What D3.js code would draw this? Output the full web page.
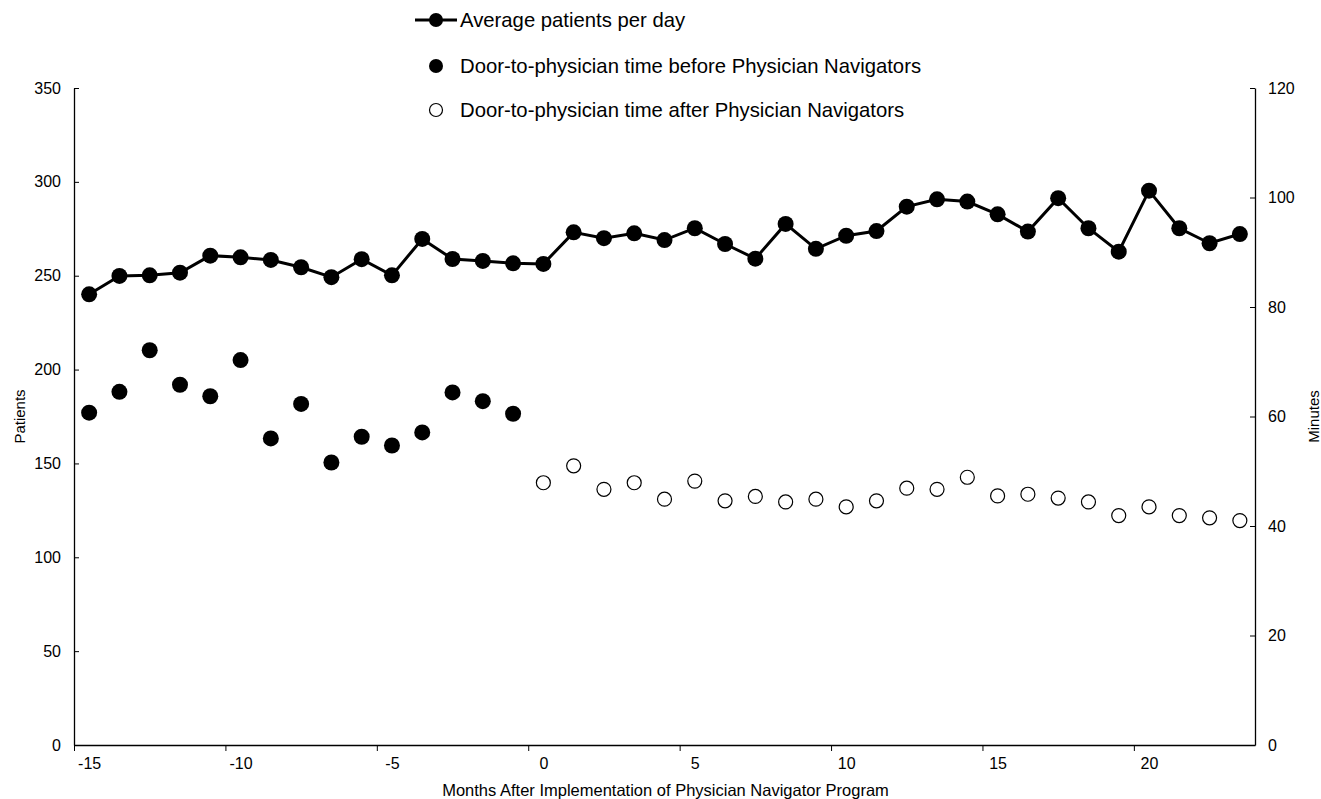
<!DOCTYPE html>
<html>
<head>
<meta charset="utf-8">
<script src="https://cdn.jsdelivr.net/npm/d3@7"></script>
<style>
  body { margin: 0; background: #fff; }
  text { font-family: "Liberation Sans", Arial, sans-serif; fill: #000; }
</style>
</head>
<body>
<div id="chart-area"></div>
<script>
const months = d3.range(-15, 24)
const patients = [240.1, 249.9, 250.2, 251.6, 260.7, 259.8, 258.4, 254.5, 249.2, 258.8,
  250.2, 269.6, 258.9, 257.9, 256.6, 256.3, 273.1, 270.0, 272.6, 269.0,
  275.3, 266.9, 259.1, 277.6, 264.3, 271.3, 273.8, 286.8, 290.7, 289.5,
  282.7, 273.5, 291.3, 275.3, 262.8, 295.3, 275.3, 267.3, 272.2]
const beforeMonths = d3.range(-15, 0)
const beforeMinutes = [60.7, 64.5, 72.1, 65.8, 63.7, 70.3, 56.0, 62.3, 51.6, 56.3, 54.7, 57.1, 64.4, 62.8, 60.5]
const afterMonths = d3.range(0, 24)
const afterMinutes = [47.9, 51.0, 46.7, 47.9, 44.9, 48.2, 44.6, 45.4, 44.4, 44.9, 43.5, 44.6,
  46.9, 46.7, 48.9, 45.5, 45.8, 45.1, 44.4, 41.9, 43.5, 41.9, 41.5, 41.0]
const xTicks = [-15, -10, -5, 0, 5, 10, 15, 20]
const leftTicks = [0, 50, 100, 150, 200, 250, 300, 350]
const rightTicks = [0, 20, 40, 60, 80, 100, 120]
const legendLabels = ['Average patients per day',
  'Door-to-physician time before Physician Navigators',
  'Door-to-physician time after Physician Navigators']

const margin = { left: 74, right: 66, top: 88, bottom: 54 },
  width = 1321 - margin.left - margin.right,
  height = 799 - margin.top - margin.bottom

let svg = d3.select('#chart-area')
  .append('svg')
  .attr('width', 1321)
  .attr('height', 799)

let g = svg.append('g')
  .attr('transform', `translate(${margin.left}, ${margin.top})`)

let x = d3.scaleLinear()
  .domain([-15.5, 23.5])
  .range([0, width])

let yLeft = d3.scaleLinear()
  .domain([0, 350])
  .range([height, 0])

let yRight = d3.scaleLinear()
  .domain([0, 120])
  .range([height, 0])

const half = x(0.5) - x(0)
const plain = d => String(d)   // keep hyphen-minus like the original

// axes
let xAxis = g.append('g')
  .attr('transform', `translate(0, ${height})`)
  .call(d3.axisBottom(x).tickValues(xTicks).tickFormat(plain).tickSizeInner(0).tickSizeOuter(0).tickPadding(13))
xAxis.selectAll('.tick line').remove()
xAxis.selectAll('.tick').append('line')
  .attr('x1', -half).attr('x2', -half)
  .attr('y1', 0).attr('y2', 6)
  .attr('stroke', '#000')
xAxis.select('.domain').attr('stroke-width', 1.3)
xAxis.selectAll('text').style('font-size', '16px')

let leftAxis = g.append('g')
  .call(d3.axisLeft(yLeft).tickValues(leftTicks).tickFormat(plain).tickSizeInner(-5).tickSizeOuter(0).tickPadding(13))
leftAxis.select('.domain').attr('stroke-width', 1.3)
leftAxis.selectAll('text').style('font-size', '16px')

let rightAxis = g.append('g')
  .attr('transform', `translate(${width}, 0)`)
  .call(d3.axisRight(yRight).tickValues(rightTicks).tickFormat(plain).tickSizeInner(-5).tickSizeOuter(0).tickPadding(13))
rightAxis.select('.domain').attr('stroke-width', 1.3)
rightAxis.selectAll('text').style('font-size', '16px')

g.append('text')
  .attr('x', width / 2 + 1)
  .attr('y', height + 51)
  .attr('text-anchor', 'middle')
  .style('font-size', '16.5px')
  .text('Months After Implementation of Physician Navigator Program')

g.append('text')
  .attr('transform', `translate(${-49}, ${height / 2}) rotate(-90)`)
  .attr('text-anchor', 'middle')
  .style('font-size', '15px')
  .text('Patients')

g.append('text')
  .attr('transform', `translate(${width + 64}, ${height / 2}) rotate(-90)`)
  .attr('text-anchor', 'middle')
  .style('font-size', '15px')
  .text('Minutes')

// series
let line = d3.line()
  .x((d, i) => x(months[i]))
  .y(d => yLeft(d))

g.append('path')
  .datum(patients)
  .attr('d', line)
  .attr('fill', 'none')
  .attr('stroke', '#000')
  .attr('stroke-width', 3)

g.append('g')
  .selectAll('circle')
  .data(patients)
  .join('circle')
  .attr('cx', (d, i) => x(months[i]))
  .attr('cy', d => yLeft(d))
  .attr('r', 8)
  .attr('fill', '#000')

g.append('g')
  .selectAll('circle')
  .data(beforeMinutes)
  .join('circle')
  .attr('cx', (d, i) => x(beforeMonths[i]))
  .attr('cy', d => yRight(d))
  .attr('r', 8)
  .attr('fill', '#000')

g.append('g')
  .selectAll('circle')
  .data(afterMinutes)
  .join('circle')
  .attr('cx', (d, i) => x(afterMonths[i]))
  .attr('cy', d => yRight(d))
  .attr('r', 7)
  .attr('fill', '#fff')
  .attr('stroke', '#000')
  .attr('stroke-width', 1.2)

// legend
let legend = svg.append('g')
  .attr('transform', 'translate(436, 0)')

legend.append('line')
  .attr('x1', -21).attr('x2', 21)
  .attr('y1', 20).attr('y2', 20)
  .attr('stroke', '#000')
  .attr('stroke-width', 3)
legend.append('circle')
  .attr('cy', 20).attr('r', 7)
  .attr('fill', '#000')
legend.append('circle')
  .attr('cy', 66).attr('r', 7)
  .attr('fill', '#000')
legend.append('circle')
  .attr('cy', 110).attr('r', 6.5)
  .attr('fill', '#fff')
  .attr('stroke', '#000')
  .attr('stroke-width', 1.2)

legend.selectAll('text')
  .data(legendLabels)
  .join('text')
  .attr('x', 24)
  .attr('y', (d, i) => [20, 66, 110][i])
  .attr('dy', '0.35em')
  .style('font-size', '20.3px')
  .text(d => d)
</script>
</body>
</html>
